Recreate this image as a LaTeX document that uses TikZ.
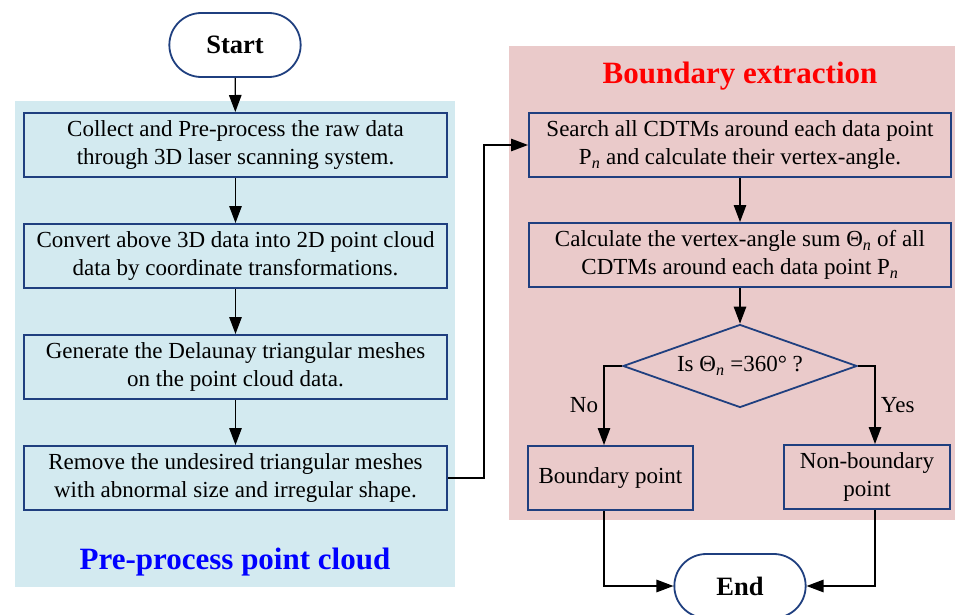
\documentclass[tikz,border=0pt]{standalone}
\usepackage{fontspec}
\setmainfont{Liberation Serif}
\usetikzlibrary{shapes.misc,shapes.geometric,arrows.meta}
\definecolor{bluebg}{HTML}{D3EAF0}
\definecolor{pinkbg}{HTML}{EACACA}
\definecolor{boxline}{HTML}{1F3F7F}
\tikzset{
  every node/.style={font=\fontsize{23}{28}\selectfont},
  procbox/.style={draw=boxline, line width=2pt, rectangle, minimum height=64pt, inner sep=1pt, align=center},
  term/.style={draw=boxline, line width=1.8pt, rounded rectangle, fill=white, minimum width=138pt, minimum height=64pt, font=\fontsize{26.5}{30}\selectfont\bfseries},
  decision/.style={draw=boxline, line width=1.8pt, diamond, aspect=2.8, minimum width=234pt, minimum height=83pt, inner sep=0pt},
  arr/.style={line width=1.3pt, -{Triangle[length=17pt,width=12.5pt]}},
  title/.style={font=\fontsize{31}{34}\selectfont\bfseries}
}
\begin{document}
\begin{tikzpicture}[x=1pt,y=-1pt]
\useasboundingbox (0,0) rectangle (955,615);
\clip (0,0) rectangle (955,615);
% backgrounds
\fill[bluebg] (15,101) rectangle (455,587);
\fill[pinkbg] (509,46) rectangle (955,520);
% titles
\node[title, text=blue] (t1) at (235,562) {Pre-process point cloud};
\node[title, text=red] (t2) at (740,76) {Boundary extraction};
% nodes
\node[term] (start) at (235,45) {Start};
\node[procbox, minimum width=423pt] (b1) at (235.5,145) {Collect and Pre-process the raw data\\through 3D laser scanning system.};
\node[procbox, minimum width=423pt] (b2) at (235.5,256) {Convert above 3D data into 2D point cloud\\data by coordinate transformations.};
\node[procbox, minimum width=423pt] (b3) at (235.5,367) {Generate the Delaunay triangular meshes\\on the point cloud data.};
\node[procbox, minimum width=423pt] (b4) at (235.5,478) {Remove the undesired triangular meshes\\with abnormal size and irregular shape.};
\node[procbox, minimum width=422pt] (b5) at (740,145) {Search all CDTMs around each data point\\P\textsubscript{\textit{n}} and calculate their vertex-angle.};
\node[procbox, minimum width=422pt] (b6) at (740,255) {Calculate the vertex-angle sum Θ\textsubscript{\textit{n}} of all\\CDTMs around each data point P\textsubscript{\textit{n}}};
\node[decision] (dia) at (740,366) {Is Θ\textsubscript{\textit{n}} =360° ?};
\node[procbox, minimum width=165pt] (bp) at (610.5,478) {Boundary point};
\node[procbox, minimum width=166pt] (nb) at (867,477) {Non-boundary\\point};
\node[term] (end) at (740,586) {End};
% connectors
\draw[arr] (start) -- (b1);
\draw[arr] (b1) -- (b2);
\draw[arr] (b2) -- (b3);
\draw[arr] (b3) -- (b4);
\draw[arr] (b4.east) -- ++(36,0) |- (b5.west);
\draw[arr] (b5) -- (b6);
\draw[arr] (b6) -- (dia);
\draw[arr] (dia.west) -| ([xshift=-6.5pt]bp.north) node[pos=0.75, left=2pt] {No};
\draw[arr] (dia.east) -| ([xshift=8pt]nb.north) node[pos=0.75, right=2pt] {Yes};
\draw[arr] ([xshift=-6.5pt]bp.south) |- (end.west);
\draw[arr] ([xshift=8pt]nb.south) |- (end.east);
\end{tikzpicture}
\end{document}
